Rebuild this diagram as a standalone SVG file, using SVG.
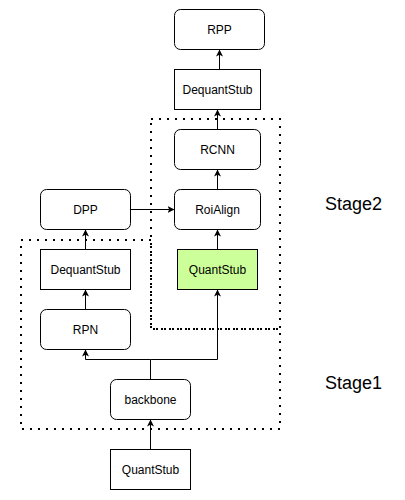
<svg xmlns="http://www.w3.org/2000/svg" width="405" height="500" viewBox="0 0 405 500">
<style>
.n{fill:#fff;stroke:#000;stroke-width:1}
.g{fill:#ccff99;stroke:#000;stroke-width:1}
.t{font-family:"Liberation Sans",Arial,sans-serif;font-size:12px;fill:#000;text-anchor:middle}
.s{font-family:"Liberation Sans",Arial,sans-serif;font-size:18px;fill:#000}
.c{fill:none;stroke:#000;stroke-width:1}
.d{fill:none;stroke:#000;stroke-width:2;stroke-dasharray:2 6}
</style>
<defs>
<marker id="a" viewBox="0 0 7 7" refX="7" refY="3.5" markerWidth="7" markerHeight="7" markerUnits="userSpaceOnUse" orient="auto">
<path d="M7,3.5 L0,0 L1.75,3.5 L0,7 Z" fill="#000"/>
</marker>
</defs>
<rect width="405" height="500" fill="#fff"/>
<g id="stage-regions">
<rect class="d" x="151" y="119" width="129" height="210"/>
<path class="d" d="M21,240 H151 V329 H280 V429 H21 Z"/>
</g>
<g id="connectors">
<path class="c" marker-end="url(#a)" d="M150.5,449.5 V419.5"/>
<path class="c" marker-end="url(#a)" d="M150.5,379.5 V359.5 H85.5 V349.5"/>
<path class="c" marker-end="url(#a)" d="M150.5,359.5 H217.5 V289.5"/>
<path class="c" marker-end="url(#a)" d="M85.5,309.5 V289.5"/>
<path class="c" marker-end="url(#a)" d="M85.5,249.5 V229.5"/>
<path class="c" marker-end="url(#a)" d="M130.5,209.5 H174.5"/>
<path class="c" marker-end="url(#a)" d="M217.5,249.5 V229.5"/>
<path class="c" marker-end="url(#a)" d="M217.5,189.5 V169.5"/>
<path class="c" marker-end="url(#a)" d="M217.5,129.5 V109.5"/>
<path class="c" marker-end="url(#a)" d="M219.5,69.5 V49.5"/>
</g>
<g id="rpp"><rect class="n" x="174.5" y="9.5" width="90" height="40" rx="6"/><text class="t" x="219.5" y="33.5">RPP</text></g>
<g id="dequant-top"><rect class="n" x="174.5" y="69.5" width="86" height="40"/><text class="t" x="217.5" y="93.5">DequantStub</text></g>
<g id="rcnn"><rect class="n" x="174.5" y="129.5" width="86" height="40" rx="6"/><text class="t" x="217.5" y="153.5">RCNN</text></g>
<g id="roialign"><rect class="n" x="174.5" y="189.5" width="86" height="40" rx="6"/><text class="t" x="217.5" y="213.5">RoiAlign</text></g>
<g id="dpp"><rect class="n" x="40.5" y="189.5" width="90" height="40" rx="6"/><text class="t" x="85.5" y="213.5">DPP</text></g>
<g id="quant-green"><rect class="g" x="177.5" y="249.5" width="80" height="40"/><text class="t" x="217.5" y="273.5">QuantStub</text></g>
<g id="dequant-left"><rect class="n" x="40.5" y="249.5" width="90" height="40"/><text class="t" x="85.5" y="273.5">DequantStub</text></g>
<g id="rpn"><rect class="n" x="40.5" y="309.5" width="90" height="40" rx="6"/><text class="t" x="85.5" y="333.5">RPN</text></g>
<g id="backbone"><rect class="n" x="110.5" y="379.5" width="80" height="40" rx="6"/><text class="t" x="150.5" y="403.5">backbone</text></g>
<g id="quant-bottom"><rect class="n" x="110.5" y="449.5" width="80" height="40"/><text class="t" x="150.5" y="473.5">QuantStub</text></g>
<g id="labels">
<text class="s" x="325" y="210">Stage2</text>
<text class="s" x="325" y="389">Stage1</text>
</g>
</svg>
